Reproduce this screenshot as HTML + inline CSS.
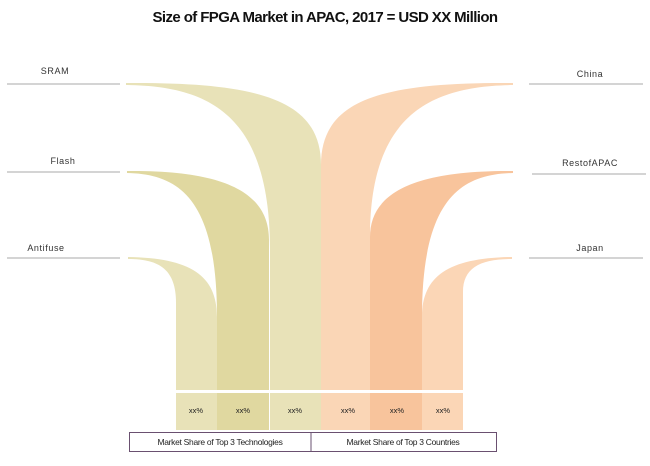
<!DOCTYPE html>
<html><head><meta charset="utf-8"><style>
body{margin:0;background:#fff;width:650px;height:461px;overflow:hidden;font-family:"Liberation Sans",sans-serif}
</style></head><body>
<svg width="650" height="461" viewBox="0 0 650 461" xmlns="http://www.w3.org/2000/svg" font-family="Liberation Sans, sans-serif">
<text x="325" y="22" text-anchor="middle" font-size="15" font-weight="bold" fill="#111" letter-spacing="-0.6">Size of FPGA Market in APAC, 2017 = USD XX Million</text>
<g stroke="#d4d4d4" stroke-width="2">
<line x1="7" y1="84" x2="120" y2="84"/><line x1="7" y1="172" x2="120" y2="172"/><line x1="7" y1="258" x2="120" y2="258"/>
<line x1="529" y1="84" x2="643" y2="84"/><line x1="532" y1="174" x2="646" y2="174"/><line x1="529" y1="258" x2="643" y2="258"/>
</g>
<g font-size="9" fill="#333" text-anchor="middle" letter-spacing="0.6">
<text x="55" y="74">SRAM</text><text x="63" y="164">Flash</text><text x="46" y="251">Antifuse</text>
<text x="590" y="77">China</text><text x="590" y="166">RestofAPAC</text><text x="590" y="251">Japan</text>
</g>
<path d="M126,83 C260,82 321,100 321,165 L321,430 L270,430 L270,250 C270,115 210,86 126,85 Z" fill="#e8e2b8"/>
<path d="M127,171 C230,170 269,195 269,240 L269,430 L217,430 L217,317 C217,200 180,174 127,173 Z" fill="#e0d8a0"/>
<path d="M128,257 C190,258 217,275 217,317 L217,430 L176,430 L176,303 C176,270 160,259 128,259 Z" fill="#e8e2b8"/>
<path d="M513,83 C380,82 321,100 321,165 L321,430 L370,430 L370,237 C370,115 430,86 513,85 Z" fill="#fad6b6"/>
<path d="M513,171 C410,170 370,195 370,237 L370,430 L422,430 L422,317 C422,200 460,174 513,173 Z" fill="#f8c49c"/>
<path d="M512,257 C450,258 422,275 422,317 L422,430 L463,430 L463,292 C463,268 480,259 512,259 Z" fill="#fbd6b6"/>
<rect x="176" y="390" width="288" height="3" fill="#fff"/>
<g font-size="7.5" fill="#222" text-anchor="middle">
<text x="196" y="413">xx%</text><text x="243" y="413">xx%</text><text x="295" y="413">xx%</text>
<text x="348" y="413">xx%</text><text x="397" y="413">xx%</text><text x="443" y="413">xx%</text>
</g>
<rect x="129.5" y="432.5" width="367" height="19" fill="#fff" stroke="#6a5070" stroke-width="1"/>
<line x1="311" y1="432" x2="311" y2="452" stroke="#6a5070"/>
<g font-size="8.5" fill="#222" text-anchor="middle" letter-spacing="-0.3">
<text x="220" y="445">Market Share of Top 3 Technologies</text>
<text x="403" y="445">Market Share of Top 3 Countries</text>
</g>
</svg>
</body></html>
